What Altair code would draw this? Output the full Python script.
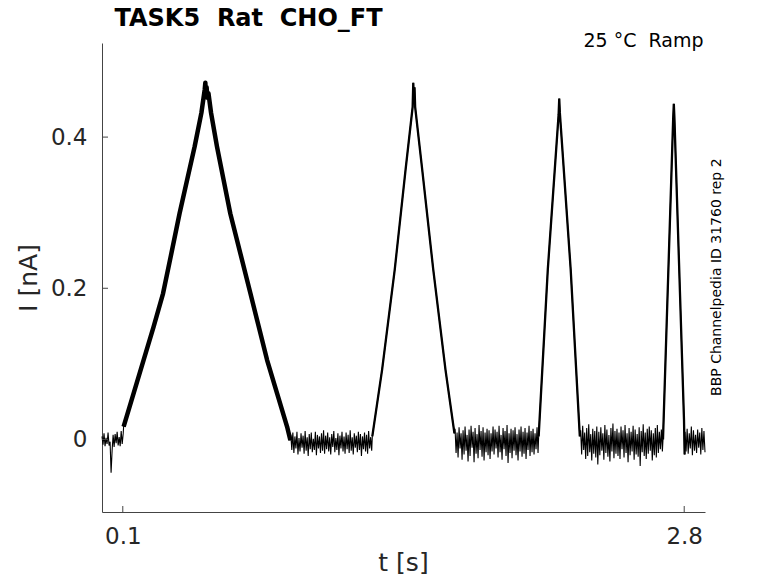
import altair as alt
import pandas as pd
import numpy as np

# ---------------- data ----------------
TITLE = "TASK5 \u00a0Rat \u00a0CHO_FT"
COND = "25 \u00b0C \u00a0Ramp"
SIDE = "BBP Channelpedia ID 31760 rep 2"
X_TITLE = "t [s]"
Y_TITLE = "I [nA]"

X_TICKS = [0.1, 2.8]
Y_TICKS = [0, 0.2, 0.4]

# baseline (holding) segments: start / end time [s]
BASE_T0 = [0.000, 0.908, 1.698, 2.302, 2.804]
BASE_T1 = [0.102, 1.297, 2.097, 2.695, 2.900]
# baseline noise, in pA (estimated from the noisy band)
BASE0_PA = [4, -7, 8, -9, 2, -6, 9, -8, -3, -44, -15, 6, -10, 7, -5, 10, -8, 3, -9, 11, -6, 8]
BASE1_PA = [6, -14, 9, -18, 4, -12, 10, -20, 2, -16, 8, -11, 5, -19, 11, -15, 3, -22, 7, -13,
            9, -17, 1, -14, 10, -21, 6, -12, 4, -18, 8, -15, 12, -19, 5, -13, 9, -16, 3, -20,
            7, -10, 11, -17, 2, -14, 8, -21, 5, -12, 10, -16, 4, -19, 9, -13, 6, -18, 12, -15,
            3, -20, 8, -11, 5, -17, 10, -14, 7, -22, 4, -13, 9, -16, 6, -19, 11, -12, 3, -15]
BASE2_PA = [14, -18, 9, -24, 16, -12, 8, -27, 12, -20, 17, -15, 6, -29, 13, -22, 18, -11, 10, -30,
            15, -19, 7, -25, 19, -14, 11, -23, 16, -28, 9, -17, 14, -21, 12, -26, 8, -16, 17, -20,
            13, -12, 10, -24, 18, -17, 6, -27, 15, -13, 11, -22, 19, -31, 8, -18, 14, -25, 12, -15,
            16, -21, 7, -28, 13, -16, 17, -23, 10, -19, 15, -26, 9, -14, 18, -22, 11, -17, 14, -20,
            8, -13, 16, -18]
BASE3_PA = [12, -20, 18, -14, 9, -26, 15, -22, 20, -17, 7, -28, 14, -19, 11, -24, 17, -33, 10, -21,
            16, -15, 8, -27, 19, -18, 13, -23, 6, -29, 15, -16, 21, -25, 11, -19, 14, -22, 9, -26,
            17, -13, 12, -24, 19, -18, 8, -30, 15, -21, 10, -16, 18, -27, 13, -20, 7, -23, 16, -35,
            11, -17, 20, -22, 9, -26, 14, -19, 17, -15, 12, -28, 8, -21, 15, -24, 19, -18, 10, -13,
            13, -16]
BASE4_PA = [10, -16, 14, -19, 8, -12, 17, -21, 12, -15, 6, -18, 13, -11, 9, -20, 15, -14, 11, -17]

# ramp responses: time [s] and current [nA]
RAMP1_T = [0.104, 0.152, 0.200, 0.248, 0.2935, 0.3335, 0.373, 0.409, 0.4456, 0.478, 0.494,
           0.497, 0.500, 0.503, 0.507, 0.512, 0.5245, 0.553, 0.585, 0.617, 0.6655,
           0.714, 0.754, 0.794, 0.842, 0.890, 0.906]
RAMP1_I = [0.017, 0.061, 0.105, 0.149, 0.193, 0.246, 0.299, 0.343, 0.3875, 0.432, 0.463,
           0.472, 0.455, 0.466, 0.452, 0.458, 0.432, 0.3875, 0.343, 0.299, 0.246,
           0.193, 0.149, 0.105, 0.061, 0.017, -0.001]
RAMP2_T = [1.300, 1.347, 1.408, 1.460, 1.494, 1.497, 1.500, 1.503, 1.506, 1.540,
           1.593, 1.652, 1.695]
RAMP2_I = [0.004, 0.092, 0.225, 0.357, 0.440, 0.472, 0.452, 0.466, 0.440, 0.357,
           0.225, 0.092, 0.008]
RAMP3_T = [2.100, 2.144, 2.196, 2.199, 2.202, 2.254, 2.298]
RAMP3_I = [0.004, 0.225, 0.430, 0.451, 0.432, 0.225, 0.004]
RAMP4_T = [2.698, 2.747, 2.750, 2.753, 2.799, 2.802]
RAMP4_I = [0.000, 0.425, 0.444, 0.425, 0.026, -0.020]

# ---------------- build table ----------------
rows = []
bases = [BASE0_PA, BASE1_PA, BASE2_PA, BASE3_PA, BASE4_PA]
ramps = [(RAMP1_T, RAMP1_I), (RAMP2_T, RAMP2_I), (RAMP3_T, RAMP3_I), (RAMP4_T, RAMP4_I)]
for k, vals in enumerate(bases):
    ts = np.linspace(BASE_T0[k], BASE_T1[k], len(vals))
    for t, v in zip(ts, vals):
        rows.append({"t": float(t), "i": v / 1000.0, "part": "base", "seg": f"b{k}"})
    if k < len(ramps):
        rt, ri = ramps[k]
        for t, v in zip(rt, ri):
            rows.append({"t": t, "i": v, "part": "ramp", "seg": f"r{k + 1}"})
df = pd.DataFrame(rows).sort_values("t").reset_index(drop=True)
df["n"] = np.arange(len(df))

W, H = 603, 469
FONT = "DejaVu Sans"
AX = "#444444"
TXT = "#262626"

xs = alt.Scale(domain=[0, 2.9], nice=False, zero=False)
ys = alt.Scale(domain=[-0.096, 0.5245], nice=False, zero=False)

x_axis = alt.Axis(values=X_TICKS, format="~g", title=None, grid=False, ticks=False,
                  tickSize=0, labelFontSize=23, labelColor=TXT, labelFont=FONT,
                  labelPadding=13, domainColor=AX, domainWidth=1, labelFlush=False)
y_axis = alt.Axis(values=Y_TICKS, format="~g", title=None, grid=False, ticks=False,
                  tickSize=0, labelFontSize=23, labelColor=TXT, labelFont=FONT,
                  labelPadding=15, domainColor=AX, domainWidth=1)

base = alt.Chart(df)
enc = dict(x=alt.X("t:Q", scale=xs, axis=x_axis),
           y=alt.Y("i:Q", scale=ys, axis=y_axis),
           order="n:Q")

line_all = base.mark_line(color="black", strokeWidth=1.1).encode(**enc)
line_r = base.mark_line(color="black", strokeWidth=2.3).encode(
    detail="seg:N", **enc).transform_filter("datum.part == 'ramp'")
line_r1 = base.mark_line(color="black", strokeWidth=4.5, strokeJoin="round").encode(
    **enc).transform_filter("datum.seg == 'r1'")

xt = alt.Chart(pd.DataFrame({"v": X_TICKS})).mark_rule(color=AX, strokeWidth=1).encode(
    x=alt.X("v:Q", scale=xs), y=alt.value(H - 6), y2=alt.value(H))
yt = alt.Chart(pd.DataFrame({"v": Y_TICKS})).mark_rule(color=AX, strokeWidth=1).encode(
    y=alt.Y("v:Q", scale=ys), x=alt.value(0), x2=alt.value(6))

one = pd.DataFrame({"a": [1]})
t_title = alt.Chart(one).mark_text(text=TITLE, font=FONT, fontSize=24, fontWeight="bold",
                                   align="left", baseline="alphabetic", color="black").encode(
    x=alt.value(12.5), y=alt.value(-17))
t_cond = alt.Chart(one).mark_text(text=COND, font=FONT, fontSize=19, align="right",
                                  baseline="alphabetic", color="black").encode(
    x=alt.value(601.5), y=alt.value(4))
t_side = alt.Chart(one).mark_text(text=SIDE, font=FONT, fontSize=14, align="center",
                                  baseline="alphabetic", angle=270, color="black").encode(
    x=alt.value(618.5), y=alt.value(234.2))
t_x = alt.Chart(one).mark_text(text=X_TITLE, font=FONT, fontSize=25, align="center",
                               baseline="alphabetic", color=TXT).encode(
    x=alt.value(301.5), y=alt.value(527.5))
t_y = alt.Chart(one).mark_text(text=Y_TITLE, font=FONT, fontSize=25, align="center",
                               baseline="alphabetic", angle=270, color=TXT).encode(
    x=alt.value(-64.7), y=alt.value(235))

chart = alt.layer(line_all, line_r, line_r1, xt, yt, t_title, t_cond, t_side, t_x, t_y).properties(
    width=W, height=H, autosize="none",
    padding={"left": 94, "top": 35, "right": 60, "bottom": 63},
    background="white",
).configure_view(stroke=None)

chart.save("out.html", embed_options={"renderer": "svg", "actions": False})
